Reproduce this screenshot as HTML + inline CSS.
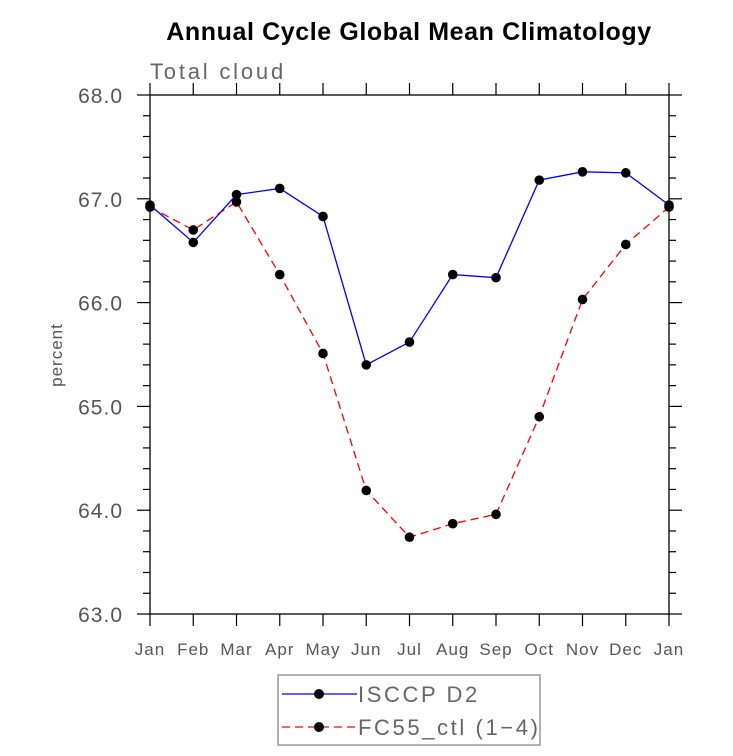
<!DOCTYPE html>
<html><head><meta charset="utf-8"><style>
body{margin:0;background:#fff}
svg text{font-family:"Liberation Sans",sans-serif}
</style></head><body>
<svg id="c" width="733" height="751" xmlns="http://www.w3.org/2000/svg">
<text x="409" y="40" text-anchor="middle" font-size="25" font-weight="bold" fill="#000" letter-spacing="0.6">Annual Cycle Global Mean Climatology</text>
<text x="150" y="79" font-size="22" fill="#666" letter-spacing="2.8">Total cloud</text>
<text x="62" y="355" font-size="17" fill="#555" text-anchor="middle" letter-spacing="1" transform="rotate(-90 62 355)">percent</text>
<g id="axes"></g>
<g id="series"></g>
<rect x="278" y="675" width="262" height="70" fill="none" stroke="#999" stroke-width="1.5"/>
<g>
<line x1="282" y1="694" x2="357" y2="694" stroke="#00f" stroke-width="1.3"/>
<circle cx="319" cy="694" r="5" fill="#000"/>
<text x="358" y="702" font-size="22" fill="#666" letter-spacing="2.6">ISCCP D2</text></g>
<g>
<line x1="282" y1="727" x2="357" y2="727" stroke="#f00" stroke-width="1.3" stroke-dasharray="8,5"/>
<circle cx="319" cy="727" r="5" fill="#000"/>
<text x="358" y="735" font-size="22" fill="#666" letter-spacing="2.6">FC55_ctl (1−4)</text></g>
</svg>
<script>
const months=["Jan","Feb","Mar","Apr","May","Jun","Jul","Aug","Sep","Oct","Nov","Dec","Jan"];
const isccp=[66.94,66.58,67.04,67.10,66.83,65.40,65.62,66.27,66.24,67.18,67.26,67.25,66.94];
const fc55=[66.92,66.70,66.97,66.27,65.51,64.19,63.74,63.87,63.96,64.90,66.03,66.56,66.92];
const yTicks=[63,64,65,66,67,68];
const NS="http://www.w3.org/2000/svg";
const L=150,R=669,T=95,B=614,YMIN=63,YMAX=68;
const xs=i=>L+(R-L)*i/(months.length-1);
const ys=v=>B-(v-YMIN)/(YMAX-YMIN)*(B-T);
function mk(t,a,p){const e=document.createElementNS(NS,t);for(const k in a)e.setAttribute(k,a[k]);p.appendChild(e);return e;}
const ax=document.getElementById('axes');
const fr=mk('rect',{x:L,y:T,width:R-L,height:B-T,fill:'none',stroke:'#000','stroke-width':1.3},ax);


months.forEach((m,i)=>{const x=xs(i);
mk('line',{x1:x,y1:B,x2:x,y2:B+12,stroke:'#000','stroke-width':1.2},ax);
mk('line',{x1:x,y1:T,x2:x,y2:T-12,stroke:'#000','stroke-width':1.2},ax);
const t=mk('text',{x:x,y:B+41,'text-anchor':'middle','font-size':17,fill:'#555','letter-spacing':1},ax);t.textContent=m;

});
for(let v=YMIN;v<=YMAX+1e-9;v+=0.2){const y=ys(v);const maj=Math.abs(v-Math.round(v))<1e-6;const len=maj?13:7;
mk('line',{x1:L-len,y1:y,x2:L,y2:y,stroke:'#000','stroke-width':1.2},ax);
mk('line',{x1:R,y1:y,x2:R+len,y2:y,stroke:'#000','stroke-width':1.2},ax);}
yTicks.forEach(v=>{const t=mk('text',{x:123,y:ys(v)+8,'text-anchor':'end','font-size':21,fill:'#555','letter-spacing':1},ax);t.textContent=v.toFixed(1);

});
const sg=document.getElementById('series');
function series(d,col,dash,name){
const p=mk('polyline',{points:d.map((v,i)=>xs(i)+','+ys(v)).join(' '),fill:'none',stroke:col,'stroke-width':1.3,'stroke-dasharray':dash},sg);


d.forEach((v,i)=>{const c=mk('circle',{cx:xs(i),cy:ys(v),r:4.8,fill:'#000'},sg);

});}
series(fc55,'#f00','8,5','fc55');
series(isccp,'#00f','none','isccp');
</script>
</body></html>
